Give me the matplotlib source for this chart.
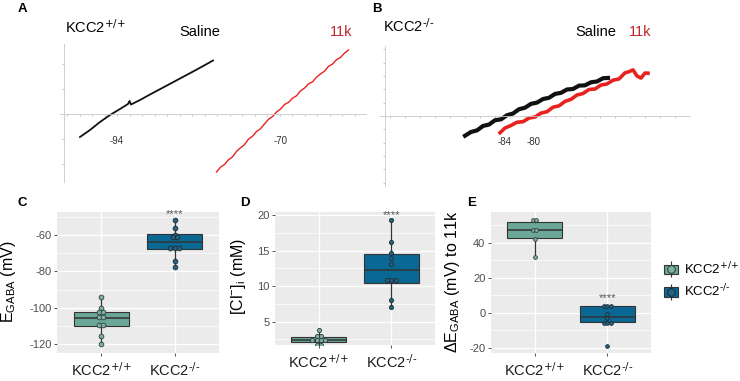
import matplotlib
matplotlib.use("Agg")
import matplotlib.pyplot as plt
from matplotlib.patches import Patch
from matplotlib.lines import Line2D
from matplotlib.legend_handler import HandlerTuple
from collections import Counter

plt.rcParams["font.family"] = ["Liberation Sans", "DejaVu Sans"]
plt.rcParams["mathtext.default"] = "regular"
plt.rcParams["axes.unicode_minus"] = False

# ---- data: I-V ramps (arbitrary units, origin = reversal axes) ----
a_sal_x = [16.5, 26.5, 36.5, 46.5, 56.5, 64.5, 66, 67.5, 76.5, 86.5, 101.5, 116.5, 131.5, 141.5, 149.5]
a_sal_y = [-23, -16, -8, -1, 5, 10, 13, 9.5, 14, 19.5, 27.5, 35.5, 43.5, 49, 53.5]
a_11k_x = [153, 157, 161, 165, 169, 173, 177, 181, 185, 189, 193, 197, 201, 205, 209, 213, 217,
           221, 225, 229, 233, 237, 241, 245, 249, 253, 257, 261, 265, 269, 273, 277, 281, 285]
a_11k_y = [-58, -53.2, -50.5, -45.7, -42.9, -37.4, -33.8, -30.7, -25.1, -22.3, -17.5, -14.8, -9.9,
           -5.3, -2.6, 2.0, 4.9, 9.5, 11.6, 15.8, 18.2, 23.1, 25.9, 30.2, 32.1, 36.8, 40.1, 42.8,
           47.7, 50.0, 54.3, 56.6, 60.9, 64]
b_sal_x = [80, 86, 92, 98, 104, 110, 116, 122, 128, 134, 140, 146, 152, 158, 164, 170, 176,
           182, 188, 194, 200, 206, 212, 218, 223]
b_sal_y = [-20, -16.2, -14.6, -10.1, -8.7, -4.3, -3.4, 0.8, 2.5, 6.9, 8.4, 12.3, 13.6, 17.2, 18.5,
           22.4, 23.5, 26.9, 27.4, 30.8, 31.1, 34.2, 35.0, 38.3, 38.6]
b_11k_x = [115, 120, 126, 132, 138, 144, 150, 156, 162, 168, 174, 180, 186, 192, 198, 204, 210,
           216, 222, 228, 234, 240, 244, 248, 252, 256, 260, 263]
b_11k_y = [-17, -12.2, -9.6, -6.3, -5.8, -2.1, -1.0, 2.9, 4.4, 8.9, 10.3, 14.8, 16.9, 21.3, 22.8,
           26.9, 27.4, 31.4, 32.5, 36.3, 37.6, 43.8, 44.9, 46.8, 40.6, 38.5, 43.6, 43.4]

# ---- data: box plots ----
groups = [r"KCC2$^{\text{+/+}}$", r"KCC2$^{\text{-/-}}$"]
egaba_wt = [-94.1, -100.2, -102.4, -102.4, -105.3, -105.3, -109.7, -109.7, -115.7, -119.9]
egaba_ko = [-52.0, -56.3, -59.8, -61.3, -61.3, -67.0, -67.0, -67.0, -74.2, -77.9]
egaba_box = [(-119.9, -110.2, -105.6, -102.4, -94.1), (-77.9, -67.7, -64.0, -59.5, -52.0)]
cl_wt = [3.85, 3.0, 3.0, 2.4, 2.4, 2.4, 2.4, 1.7, 1.7]
cl_ko = [19.3, 16.2, 14.6, 14.0, 13.1, 10.8, 10.8, 10.8, 8.1, 7.1]
cl_box = [(1.7, 2.1, 2.4, 2.9, 3.85), (7.1, 10.5, 12.2, 14.5, 19.3)]
shift_wt = [53.1, 53.1, 47.4, 47.4, 42.1, 31.8]
shift_ko = [4.2, 4.2, 4.2, -0.6, -2.7, -5.5, -5.5, -5.5, -18.7]
shift_box = [(31.8, 42.7, 47.4, 52.2, 53.1), (-5.5, -5.3, -2.4, 4.0, 4.2)]

box_fill = ["#6aa798", "#0a6894"]
dot_fill = ["#7fb0a3", "#2b5f7a"]
dot_edge = ["#2f3f3c", "#14303d"]
red = "#e8231f"

W, H = 740, 381
fig = plt.figure(figsize=(7.4, 3.81), dpi=100)


def rect(l, t, r, b):
    return [l / W, 1 - b / H, (r - l) / W, (b - t) / H]


def ftxt(x, y, s, **kw):
    fig.text(x / W, 1 - y / H, s, **kw)


def trace_axes(r, xlim, ylim, xticks, yticks):
    ax = fig.add_axes(r)
    ax.set_xlim(xlim)
    ax.set_ylim(ylim)
    ax.patch.set_alpha(0)
    for s in ["top", "right"]:
        ax.spines[s].set_visible(False)
    for s in ["left", "bottom"]:
        ax.spines[s].set_position(("data", 0))
        ax.spines[s].set_color("#c8c8c8")
        ax.spines[s].set_linewidth(0.6)
    ax.set_xticks(xticks)
    ax.set_yticks(yticks)
    ax.tick_params(length=1.5, width=0.5, color="#b0b0b0", labelbottom=False, labelleft=False)
    return ax


# panel A
axA = trace_axes(rect(60, 44, 366, 182), (-3.5, 302.5), (-68, 70),
                 [3.5 + 12.5 * k for k in range(24)], [-50, -25, 25, 50])
axA.plot(a_sal_x, a_sal_y, color="#111111", lw=1.3)
axA.plot(a_11k_x, a_11k_y, color=red, lw=1.0)

# panel B
axB = trace_axes(rect(380, 46, 690, 186), (-5, 305), (-71, 71),
                 [5 + 15 * k for k in range(20)], [13.5 * k for k in range(-5, 6) if k != 0])
axB.plot(b_sal_x, b_sal_y, color="#111111", lw=3.0)
axB.plot(b_11k_x, b_11k_y, color=red, lw=2.6)

ftxt(65, 27, r"KCC2$^{\text{+/+}}$", fontsize=10.5, va="center")
ftxt(200, 32, "Saline", fontsize=10.5, ha="center", va="center")
ftxt(341, 32, "11k", fontsize=10.5, ha="center", va="center", color="#c0262d")
ftxt(117, 141, "-94", fontsize=7, ha="center", va="center", color="#333333")
ftxt(281, 141, "-70", fontsize=7, ha="center", va="center", color="#333333")
ftxt(383, 26, r"KCC2$^{\text{-/-}}$", fontsize=10.5, va="center")
ftxt(596, 32, "Saline", fontsize=10.5, ha="center", va="center")
ftxt(640, 32, "11k", fontsize=10.5, ha="center", va="center", color="#c0262d")
ftxt(505, 142, "-84", fontsize=7, ha="center", va="center", color="#333333")
ftxt(534, 142, "-80", fontsize=7, ha="center", va="center", color="#333333")

for lbl, x, y in [("A", 22, 9), ("B", 377, 9), ("C", 22, 203), ("D", 245, 203), ("E", 472, 203)]:
    ftxt(x, y, lbl, fontsize=9.5, fontweight="bold", ha="center", va="center")


def stack_x(pos, vals, step):
    counts = Counter(vals)
    seen = {}
    xs = []
    for v in vals:
        k = seen.get(v, 0)
        seen[v] = k + 1
        xs.append(pos + (k - (counts[v] - 1) / 2) * step)
    return xs


def box_panel(r, ylim, yticks, yminor, box, pts, step, ms, star_y):
    ax = fig.add_axes(r)
    ax.set_facecolor("#ebebeb")
    for s in ax.spines.values():
        s.set_visible(False)
    stats = [dict(whislo=b[0], q1=b[1], med=b[2], q3=b[3], whishi=b[4], fliers=[]) for b in box]
    res = ax.bxp(stats, positions=[1, 2], widths=0.75, patch_artist=True, showfliers=False,
                 showcaps=False, manage_ticks=False,
                 boxprops=dict(edgecolor="#333333", linewidth=0.8),
                 medianprops=dict(color="#333333", linewidth=1.1),
                 whiskerprops=dict(color="#333333", linewidth=0.9))
    for patch, c in zip(res["boxes"], box_fill):
        patch.set_facecolor(c)
    for i, vals in enumerate(pts):
        ax.scatter(stack_x(i + 1, vals, step), vals, s=ms ** 2, color=dot_fill[i],
                   edgecolors=dot_edge[i], linewidths=0.6, zorder=4)
    ax.text(2, star_y, "****", ha="center", va="center", fontsize=8, color="#555555")
    ax.set_xlim(0.4, 2.6)
    ax.set_ylim(ylim)
    ax.set_yticks(yticks)
    ax.set_yticks(yminor, minor=True)
    ax.set_xticks([1, 2])
    ax.set_xticklabels(groups)
    ax.grid(which="major", color="white", lw=1.0)
    ax.grid(which="minor", axis="y", color="white", lw=0.5)
    ax.set_axisbelow(True)
    ax.tick_params(which="minor", left=False, bottom=False)
    ax.tick_params(length=2.5, width=0.6, color="#333333")
    ax.tick_params(axis="y", labelsize=8, labelcolor="#4d4d4d", pad=1.5)
    ax.tick_params(axis="x", labelsize=10.5, labelcolor="#1a1a1a", pad=3)
    return ax


box_panel(rect(57, 212, 219, 353), (-124.9, -47.4), [-120, -100, -80, -60],
          [-110, -90, -70, -50], egaba_box, [egaba_wt, egaba_ko], 0.062, 3.4, -48.5)
box_panel(rect(275, 212, 435, 345), (1.72, 20.42), [5, 10, 15, 20],
          [2.5, 7.5, 12.5, 17.5], cl_box, [cl_wt, cl_ko], 0.058, 3.0, 20.0)
box_panel(rect(491, 212, 651, 353), (-22.9, 57.7), [-20, 0, 20, 40],
          [-10, 10, 30, 50], shift_box, [shift_wt, shift_ko], 0.05, 2.7, 8.6)

ftxt(9, 282, "E$_{GABA}$ (mV)", fontsize=11.5, rotation=90, ha="center", va="center")
ftxt(238, 276, "[Cl$^{-}$]$_{i}$ (mM)", fontsize=11.5, rotation=90, ha="center", va="center")
ftxt(453, 282, "ΔE$_{GABA}$ (mV) to 11k", fontsize=11.5, rotation=90, ha="center", va="center")

handles = []
for i in range(2):
    handles.append((Patch(facecolor=box_fill[i], edgecolor="#333333", linewidth=0.8),
                    Line2D([], [], ls="", marker="|", ms=11, mew=0.8, color="#333333"),
                    Line2D([], [], ls="", marker="o", ms=5.5, mfc=dot_fill[i], mec=dot_edge[i], mew=0.7)))
fig.legend(handles, groups, loc="center left", bbox_to_anchor=(657 / W, 1 - 280 / H),
           frameon=False, fontsize=9.5, handlelength=1.1, handleheight=0.7,
           labelspacing=0.45, handletextpad=0.45, borderpad=0,
           handler_map={tuple: HandlerTuple(ndivide=1, pad=0)})

fig.savefig("out.png", dpi=100)
